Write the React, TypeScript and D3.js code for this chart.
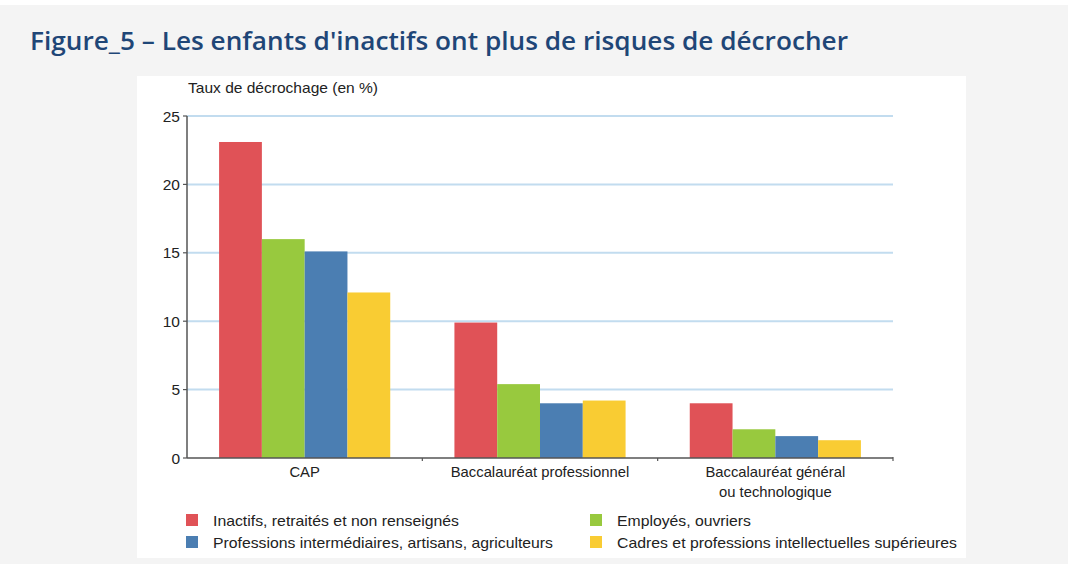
import React from "react";
import * as d3 from "d3";

const categories = ["CAP", "Baccalauréat professionnel", "Baccalauréat général\nou technologique"];
const seriesNames = [
  "Inactifs, retraités et non renseignés",
  "Employés, ouvriers",
  "Professions intermédiaires, artisans, agriculteurs",
  "Cadres et professions intellectuelles supérieures",
];
const inactifs = [23.1, 9.9, 4.0];
const employes = [16.0, 5.4, 2.1];
const intermediaires = [15.1, 4.0, 1.6];
const cadres = [12.1, 4.2, 1.3];
const yTicks = [0, 5, 10, 15, 20, 25];
const colors = ["#e05257", "#98c93e", "#4b7eb2", "#f9cc33"];

const series = [inactifs, employes, intermediaires, cadres];

export default function App() {
  const left = 187;
  const right = 893;
  const top = 116;
  const bottom = 458;

  const x = d3.scaleBand<string>().domain(categories).range([left, right]).padding(0);
  const xInner = d3
    .scaleBand<number>()
    .domain(d3.range(series.length))
    .range([0, x.bandwidth()])
    .paddingInner(0)
    .paddingOuter(0.75);
  const y = d3.scaleLinear().domain([0, 25]).range([bottom, top]);

  const font = "'Liberation Sans', Arial, sans-serif";
  // legend layout: [x, y, text width]
  const legendPos = [
    [186, 520, 246],
    [590, 520, 134],
    [186, 542, 340],
    [590, 542, 340],
  ];

  return (
    <div style={{ position: "fixed", left: 0, top: 0 }}>
      <svg width={1068} height={564} style={{ display: "block" }}>
        <rect x={0} y={0} width={1068} height={564} fill="#f4f4f4" />
        <rect x={0} y={0} width={1068} height={5} fill="#ffffff" />
        <text
          x={30}
          y={50}
          fontFamily="'Open Sans', sans-serif"
          fontWeight={600}
          fontSize={25}
          fill="#1f4677"
          textLength={818}
          lengthAdjust="spacingAndGlyphs"
        >
          Figure_5 – Les enfants d'inactifs ont plus de risques de décrocher
        </text>
        <rect x={137} y={76} width={829} height={482} fill="#ffffff" />

        <text x={188} y={93} fontFamily={font} fontSize={14.5} fill="#222" textLength={190} lengthAdjust="spacingAndGlyphs">
          Taux de décrochage (en %)
        </text>

        {yTicks.map((t) => (
          <g key={t}>
            {t > 0 && <line x1={left} x2={right} y1={y(t)} y2={y(t)} stroke="#c2dcef" strokeWidth={2} />}
            <line x1={left - 4} x2={left} y1={y(t)} y2={y(t)} stroke="#555" strokeWidth={1.2} />
            <text x={left - 7} y={y(t) + 5.5} textAnchor="end" fontFamily={font} fontSize={15.5} fill="#222">
              {t}
            </text>
          </g>
        ))}

        {categories.map((c, ci) =>
          series.map((s, si) => (
            <rect
              key={c + si}
              x={(x(c) as number) + (xInner(si) as number)}
              y={y(s[ci])}
              width={xInner.bandwidth()}
              height={y(0) - y(s[ci])}
              fill={colors[si]}
            />
          ))
        )}

        <line x1={left} x2={left} y1={top} y2={bottom} stroke="#555" strokeWidth={1.5} />
        <line x1={left} x2={right} y1={bottom} y2={bottom} stroke="#555" strokeWidth={1.5} />
        {categories.slice(1).map((c) => (
          <line key={c} x1={x(c)} x2={x(c)} y1={bottom} y2={bottom + 3} stroke="#555" strokeWidth={1.2} />
        ))}
        <line x1={right} x2={right} y1={bottom - 1} y2={bottom + 3} stroke="#555" strokeWidth={1.2} />

        {categories.map((c) => (
          <text
            key={c}
            x={(x(c) as number) + x.bandwidth() / 2}
            y={477}
            textAnchor="middle"
            fontFamily={font}
            fontSize={14.8}
            fill="#222"
          >
            {c.split("\n").map((line, i) => (
              <tspan key={i} x={(x(c) as number) + x.bandwidth() / 2} dy={i === 0 ? 0 : 20}>
                {line}
              </tspan>
            ))}
          </text>
        ))}

        {seriesNames.map((name, si) => (
          <g key={name}>
            <rect x={legendPos[si][0]} y={legendPos[si][1] - 6} width={12} height={12} fill={colors[si]} />
            <text
              x={legendPos[si][0] + 27}
              y={legendPos[si][1] + 5.5}
              fontFamily={font}
              fontSize={15}
              fill="#222"
              textLength={legendPos[si][2]}
              lengthAdjust="spacingAndGlyphs"
            >
              {name}
            </text>
          </g>
        ))}
      </svg>
    </div>
  );
}
